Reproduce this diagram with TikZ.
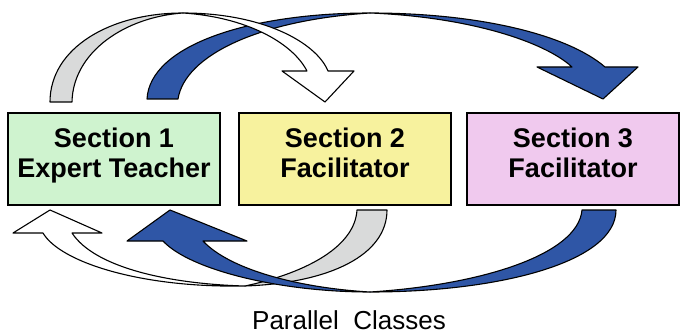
\documentclass[tikz,border=0pt]{standalone}
\usepackage{fontspec}
\setmainfont{Liberation Sans}
\definecolor{secgreen}{HTML}{CFF3CF}
\definecolor{secyellow}{HTML}{F7F29E}
\definecolor{secpink}{HTML}{F0C9EE}
\definecolor{ribbonblue}{HTML}{2F56A6}
\definecolor{ribbongray}{HTML}{D9DADA}
\begin{document}
\begin{tikzpicture}[x=1pt, y=-1pt,
  secbox/.style={draw, line width=1.3pt, minimum width=212pt, minimum height=92pt, inner sep=0pt},
  sectext/.style={font=\fontsize{27}{30}\selectfont\bfseries, align=center, inner sep=0pt},
  ribbon/.style={draw, line width=1.1pt, line join=round}]
\useasboundingbox (0,0) rectangle (680,334);
\node[secbox, fill=secgreen] (sec1) at (114,159) {};
\node[secbox, fill=secyellow] (sec2) at (345,159) {};
\node[secbox, fill=secpink] (sec3) at (573,159) {};
\node[sectext] (lab1) at (114,155.3) {Section 1\\Expert Teacher};
\node[sectext] (lab2) at (345,152.5) {Section 2\\Facilitator};
\node[sectext] (lab3) at (573,152.5) {Section 3\\Facilitator};
\node[font=\fontsize{26}{30}\selectfont, inner sep=0pt] (title) at (349,320.5) {Parallel\ \ Classes};
% top arrows
\draw[ribbon, fill=ribbonblue] (147,99) .. controls (150,45) and (250,13) .. (370,13)
  .. controls (260,20) and (185,55) .. (178,99) -- cycle;
\draw[ribbon, fill=ribbonblue] (370,13) .. controls (480,13) and (568,35) .. (605,67)
  -- (638,67) -- (603,99) -- (537,67) -- (572,67)
  .. controls (545,42) and (470,17) .. (370,13) -- cycle;
\draw[ribbon, fill=ribbongray] (50,102) .. controls (50,48) and (110,13) .. (183,13)
  .. controls (125,17) and (73,52) .. (72,102) -- cycle;
\draw[ribbon, fill=white] (183,13) .. controls (262,13) and (316,42) .. (328,71)
  -- (354,71) -- (325,102) -- (282,71) -- (307,71)
  .. controls (292,42) and (245,17) .. (183,13) -- cycle;
% bottom arrows
\draw[ribbon, fill=ribbongray] (357,210) -- (387,210) .. controls (387,255) and (330,283) .. (245,286)
  .. controls (310,272) and (355,245) .. (357,210) -- cycle;
\draw[ribbon, fill=white] (245,286) .. controls (140,288) and (60,262) .. (43,233)
  -- (13,233) -- (50,210) -- (102,233) -- (72,233)
  .. controls (95,268) and (170,284) .. (245,286) -- cycle;
\draw[ribbon, fill=ribbonblue] (582,210) -- (616,210) .. controls (616,262) and (500,292) .. (370,292)
  .. controls (480,285) and (578,255) .. (582,210) -- cycle;
\draw[ribbon, fill=ribbonblue] (370,292) .. controls (280,292) and (190,270) .. (163,241)
  -- (127,241) -- (170,210) -- (247,241) -- (203,241)
  .. controls (230,270) and (300,288) .. (370,292) -- cycle;
\end{tikzpicture}
\end{document}
